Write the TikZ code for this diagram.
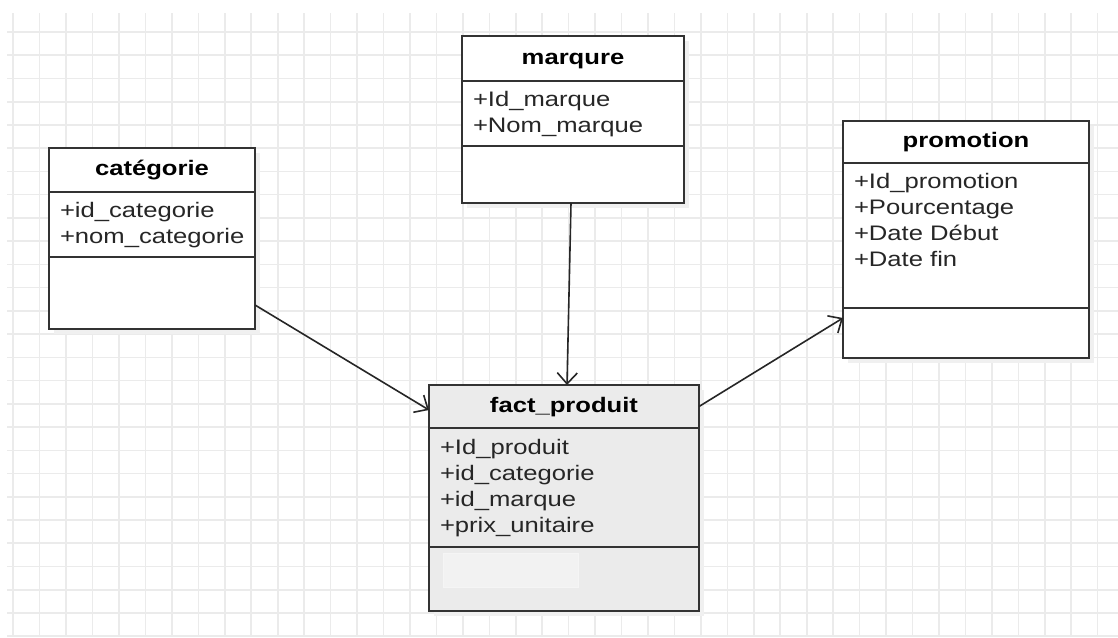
\documentclass[tikz,border=0pt]{standalone}
\usepackage{fontspec}
\setmainfont{Liberation Sans}[FakeStretch=1.22]
\usetikzlibrary{positioning,arrows.meta,shadows}

\begin{document}
\begin{tikzpicture}[x=0.5pt,y=-0.5pt]
        \tikzstyle{every node}=[font=\fontsize{10.5}{13}\selectfont, text=black!85]
        \tikzstyle{box}=[draw=black!80, line width=1pt, fill=white, inner sep=0pt, outer sep=0pt, drop shadow={shadow xshift=2.5pt, shadow yshift=-2.5pt, fill=black!6, opacity=1}]
        \tikzstyle{head}=[box, anchor=north, font=\fontsize{10.5}{13}\selectfont\bfseries, text=black, text height=7.8pt, text depth=2.2pt]
        \tikzstyle{attr}=[anchor=base west, inner sep=0pt]
        \tikzstyle{link}=[draw=black!85, line width=0.8pt, -{Straight Barb[length=5.5pt, width=10pt]}]
        \tikzstyle{gridline}=[draw=black!8, line width=0.8pt]
        \useasboundingbox[fill=white] (0,0) rectangle (1118,637);
        % grid
        \foreach \k in {0,...,41} \draw[gridline] (13.2+26.45*\k,13) -- (13.2+26.45*\k,637);
        \foreach \k in {0,...,26} \draw[gridline] (7,32+23.24*\k) -- (1118,32+23.24*\k);
        % categorie
        \node[head, minimum width=103pt, minimum height=22pt] (cath) at (152,148) {catégorie};
        \node[box, below=0pt of cath, minimum width=103pt, minimum height=32.5pt] (cata) {};
        \node[box, below=0pt of cata, minimum width=103pt, minimum height=36pt] (catm) {};
        \foreach \t [count=\i from 0] in {+id\_categorie,+nom\_categorie}
                \node[attr] (cat-\i) at ([xshift=5.3pt, yshift=-12.5pt-\i*13pt]cata.north west) {\t};
        % marqure
        \node[head, minimum width=111pt, minimum height=22.5pt] (marh) at (573,36) {marqure};
        \node[box, below=0pt of marh, minimum width=111pt, minimum height=32.5pt] (mara) {};
        \node[box, below=0pt of mara, minimum width=111pt, minimum height=28.5pt] (marm) {};
        \foreach \t [count=\i from 0] in {+Id\_marque,+Nom\_marque}
                \node[attr] (mar-\i) at ([xshift=5.3pt, yshift=-12.5pt-\i*13pt]mara.north west) {\t};
        % promotion
        \node[head, minimum width=123pt, minimum height=21pt] (promh) at (966,121) {promotion};
        \node[box, below=0pt of promh, minimum width=123pt, minimum height=72.5pt] (proma) {};
        \node[box, below=0pt of proma, minimum width=123pt, minimum height=25pt] (promm) {};
        \foreach \t [count=\i from 0] in {+Id\_promotion,+Pourcentage,+Date Début,+Date fin}
                \node[attr] (prom-\i) at ([xshift=5.3pt, yshift=-12.5pt-\i*13pt]proma.north west) {\t};
        % fact_produit
        \node[head, fill=black!8, minimum width=135pt, minimum height=21.5pt] (facth) at (564,385) {fact\_produit};
        \node[box, fill=black!8, below=0pt of facth, minimum width=135pt, minimum height=59.5pt] (facta) {};
        \node[box, fill=black!8, below=0pt of facta, minimum width=135pt, minimum height=32pt] (factm) {};
        \node[draw=black!4, fill=black!5, anchor=north west, inner sep=0pt, minimum width=67.5pt, minimum height=17pt] (factpad) at ([xshift=7pt, yshift=-3pt]factm.north west) {};
        \foreach \t [count=\i from 0] in {+Id\_produit,+id\_categorie,+id\_marque,+prix\_unitaire}
                \node[attr] (fact-\i) at ([xshift=5.3pt, yshift=-13pt-\i*13pt]facta.north west) {\t};
        % links
        \draw[link] ([yshift=-6pt]catm.east) -- ([yshift=-1.75pt]facth.west);
        \draw[link] ([xshift=-1pt]marm.south) -- ([xshift=1.5pt]facth.north);
        \draw[link] (facth.east) -- ([yshift=7.5pt]promm.west);
\end{tikzpicture}
\end{document}
